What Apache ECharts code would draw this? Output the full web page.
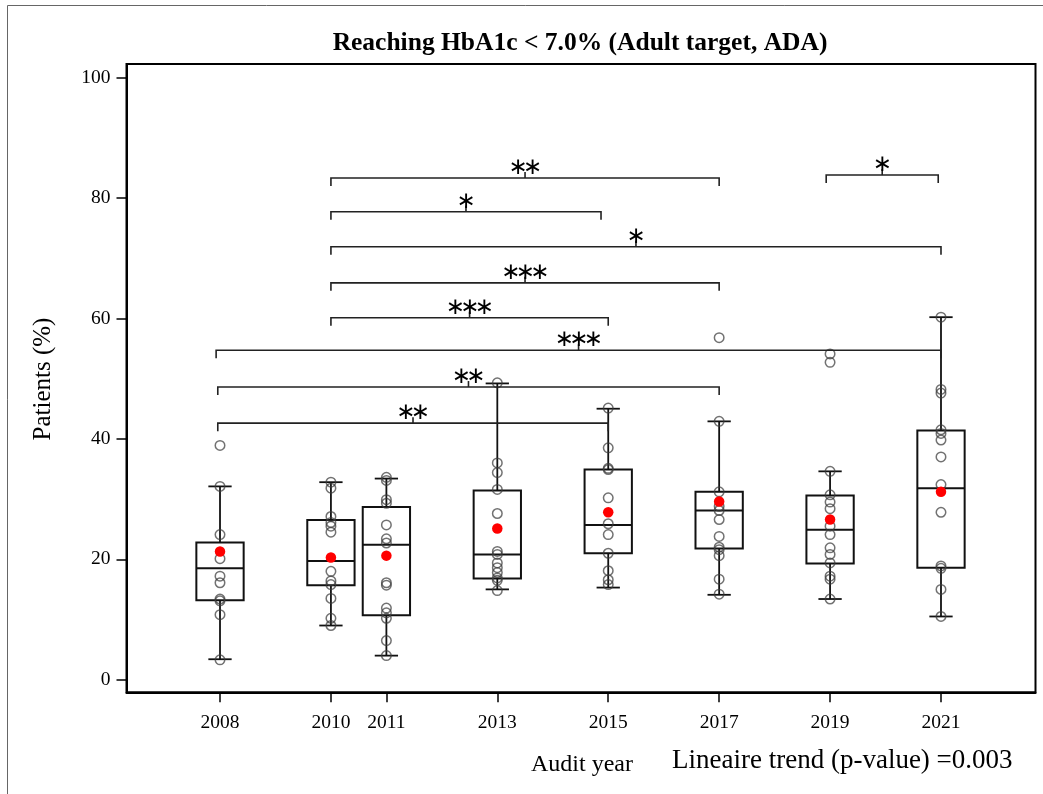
<!DOCTYPE html>
<html>
<head>
<meta charset="utf-8">
<script src="https://cdn.jsdelivr.net/npm/echarts@6/dist/echarts.min.js"></script>
<style>html,body{margin:0;padding:0;background:#fff;}#chart{width:1043px;height:794px;}</style>
</head>
<body>
<div id="chart"></div>
<script>
// ---- data ----
const years = [2008, 2010, 2011, 2013, 2015, 2017, 2019, 2021];
const yTicks = [0, 20, 40, 60, 80, 100];
const whiskerLow  = [3.4, 9.0, 4.0, 15.0, 15.3, 14.1, 13.4, 10.5];
const q1          = [13.2, 15.7, 10.7, 16.8, 21.0, 21.8, 19.3, 18.6];
const median      = [18.5, 19.7, 22.4, 20.8, 25.7, 28.1, 24.9, 31.8];
const q3          = [22.8, 26.5, 28.7, 31.4, 34.9, 31.2, 30.6, 41.4];
const whiskerHigh = [32.1, 32.8, 33.4, 49.2, 45.0, 42.9, 34.6, 60.2];
const means       = [21.3, 20.3, 20.6, 25.1, 27.8, 29.6, 26.6, 31.2];

const p2008 = [38.9, 32.1, 24.1, 20.1, 17.2, 16.1, 13.4, 13.1, 10.8, 3.3];
const p2010 = [32.8, 31.8, 27.1, 26.1, 25.5, 24.5, 18.0, 16.4, 15.8, 13.5, 10.2, 9.0];
const p2011 = [33.6, 33.1, 29.9, 29.3, 25.7, 23.4, 22.7, 16.1, 15.7, 11.9, 11.1, 10.2, 6.5, 4.0];
const p2013 = [49.3, 36.0, 34.4, 31.6, 27.6, 21.3, 20.8, 19.4, 18.6, 17.8, 16.9, 16.5, 14.8];
const p2015 = [45.1, 38.5, 35.1, 34.9, 30.2, 25.9, 24.1, 21.0, 18.1, 16.6, 15.8];
const p2017 = [56.8, 42.9, 31.2, 28.8, 28.1, 26.6, 23.8, 22.0, 21.6, 20.6, 16.7, 14.2];
const p2019 = [54.1, 52.7, 34.6, 30.7, 29.5, 28.4, 25.5, 24.1, 21.9, 20.8, 19.4, 17.2, 16.7, 13.4];
const p2021 = [60.2, 48.2, 47.6, 41.5, 40.9, 39.8, 37.0, 32.4, 27.8, 18.9, 18.5, 15.0, 10.5];
const pointsByYear = [p2008, p2010, p2011, p2013, p2015, p2017, p2019, p2021];

// significance brackets
const bracketFrom  = [2010, 2010, 2010, 2010, 2010, 2007.93, 2007.96, 2007.96, 2018.93];
const bracketTo    = [2017, 2014.87, 2021, 2017, 2015, 2021, 2017, 2015, 2020.95];
const bracketLevel = [83.3, 77.7, 71.9, 65.9, 60.1, 54.7, 48.6, 42.6, 83.8];
const bracketStars = [2, 1, 1, 3, 3, 3, 2, 2, 1];

const titleText = 'Reaching HbA1c < 7.0% (Adult target, ADA)';
const yName = 'Patients (%)';
const xName = 'Audit year';
const trendText = 'Lineaire trend (p-value) =0.003';

// ---- build ----
const boxData = years.map((y, i) => [y, whiskerLow[i], q1[i], median[i], q3[i], whiskerHigh[i]]);
const pointData = [];
years.forEach((y, i) => pointsByYear[i].forEach(v => pointData.push([y, v])));
const meanData = years.map((y, i) => [y, means[i]]);
const bracketData = bracketFrom.map((f, i) => [f, bracketTo[i], bracketLevel[i], bracketStars[i]]);

const SERIF = '"Liberation Serif", "Times New Roman", serif';

function renderBox(params, api) {
  const x = api.value(0);
  const lo = api.coord([x, api.value(1)]);
  const b1 = api.coord([x, api.value(2)]);
  const md = api.coord([x, api.value(3)]);
  const b3 = api.coord([x, api.value(4)]);
  const hi = api.coord([x, api.value(5)]);
  const bw = api.size([0.853, 0])[0];
  const cw = api.size([0.42, 0])[0];
  const cx = lo[0];
  const st = {stroke: '#111', lineWidth: 2, fill: null};
  const wst = {stroke: '#111', lineWidth: 1.8, fill: null};
  return {
    type: 'group',
    children: [
      {type: 'line', shape: {x1: cx, y1: b3[1], x2: cx, y2: hi[1]}, style: wst},
      {type: 'line', shape: {x1: cx, y1: b1[1], x2: cx, y2: lo[1]}, style: wst},
      {type: 'line', shape: {x1: cx - cw / 2, y1: hi[1], x2: cx + cw / 2, y2: hi[1]}, style: wst},
      {type: 'line', shape: {x1: cx - cw / 2, y1: lo[1], x2: cx + cw / 2, y2: lo[1]}, style: wst},
      {type: 'rect', shape: {x: cx - bw / 2, y: b3[1], width: bw, height: b1[1] - b3[1]},
        style: {stroke: '#111', lineWidth: 2, fill: 'rgba(0,0,0,0)'}},
      {type: 'line', shape: {x1: cx - bw / 2, y1: md[1], x2: cx + bw / 2, y2: md[1]}, style: st}
    ]
  };
}

function renderBracket(params, api) {
  const a = api.coord([api.value(0), api.value(2)]);
  const b = api.coord([api.value(1), api.value(2)]);
  const n = api.value(3);
  const y = a[1];
  const xm = (a[0] + b[0]) / 2;
  const st = {stroke: '#222', lineWidth: 1.6, fill: null};
  const children = [
    {type: 'polyline', shape: {points: [[a[0], y + 8], [a[0], y], [b[0], y], [b[0], y + 8]]}, style: st},
    {type: 'line', shape: {x1: xm, y1: y, x2: xm, y2: y - 6}, style: st}
  ];
  for (let i = 0; i < n; i++) {
    children.push({
      type: 'text',
      style: {
        x: xm + (i - (n - 1) / 2) * 14.5,
        y: y - 10,
        text: '\u2217',
        font: '23px "DejaVu Sans"',
        fill: '#000',
        align: 'center',
        verticalAlign: 'middle'
      }
    });
  }
  return {type: 'group', children};
}

const chart = echarts.init(document.getElementById('chart'), null, {renderer: 'canvas'});
chart.setOption({
  animation: false,
  backgroundColor: '#fff',
  grid: {left: 126.5, right: 7.5, top: 64, bottom: 101.7, show: true, borderColor: '#000', borderWidth: 2, backgroundColor: 'rgba(0,0,0,0)'},
  xAxis: {
    type: 'value', min: 2006.314, max: 2022.704,
    axisLine: {show: true, onZero: false, lineStyle: {color: '#000', width: 2}},
    axisTick: {show: true, customValues: years, length: 10, lineStyle: {color: '#000', width: 1.5}},
    axisLabel: {show: true, customValues: years, margin: 21, color: '#000', fontFamily: SERIF, fontSize: 19.5,
      formatter: v => String(Math.round(v))},
    splitLine: {show: false}
  },
  yAxis: {
    type: 'value', min: -2.09, max: 102.24,
    axisLine: {show: true, onZero: false, lineStyle: {color: '#000', width: 2}},
    axisTick: {show: true, customValues: yTicks, length: 10, lineStyle: {color: '#000', width: 1.5}},
    axisLabel: {show: true, customValues: yTicks, margin: 16, color: '#000', fontFamily: SERIF, fontSize: 19.5,
      formatter: v => String(Math.round(v))},
    splitLine: {show: false}
  },
  series: [
    {type: 'custom', name: 'box', renderItem: renderBox, data: boxData, encode: {x: 0, y: [1, 2, 3, 4, 5]}, z: 2, silent: true},
    {type: 'scatter', name: 'points', data: pointData, symbol: 'circle', symbolSize: 9.5, z: 3,
      itemStyle: {opacity: 1, color: 'rgba(255,255,255,0)', borderColor: 'rgba(60,60,60,0.72)', borderWidth: 1.5}},
    {type: 'scatter', name: 'mean', data: meanData, symbol: 'circle', symbolSize: 10.5, z: 4,
      itemStyle: {opacity: 1, color: '#ff0000'}},
    {type: 'custom', name: 'brackets', renderItem: renderBracket, data: bracketData, encode: {x: [0, 1], y: 2}, z: 5, silent: true}
  ],
  graphic: [
    {type: 'line', shape: {x1: 7.5, y1: 5.5, x2: 1043, y2: 5.5}, style: {stroke: '#666', lineWidth: 1}},
    {type: 'line', shape: {x1: 7.5, y1: 5.5, x2: 7.5, y2: 794}, style: {stroke: '#666', lineWidth: 1}},
    {type: 'text', x: 580, y: 43, style: {text: titleText, font: 'bold 25.5px ' + SERIF, fill: '#000', align: 'center', verticalAlign: 'middle'}},
    {type: 'text', x: 43, y: 379, rotation: Math.PI / 2, style: {text: yName, font: '25px ' + SERIF, fill: '#000', align: 'center', verticalAlign: 'middle'}},
    {type: 'text', x: 582, y: 765, style: {text: xName, font: '24px ' + SERIF, fill: '#000', align: 'center', verticalAlign: 'middle'}},
    {type: 'text', x: 672, y: 761, style: {text: trendText, font: '27px ' + SERIF, fill: '#000', align: 'left', verticalAlign: 'middle'}}
  ]
});
</script>
</body>
</html>
